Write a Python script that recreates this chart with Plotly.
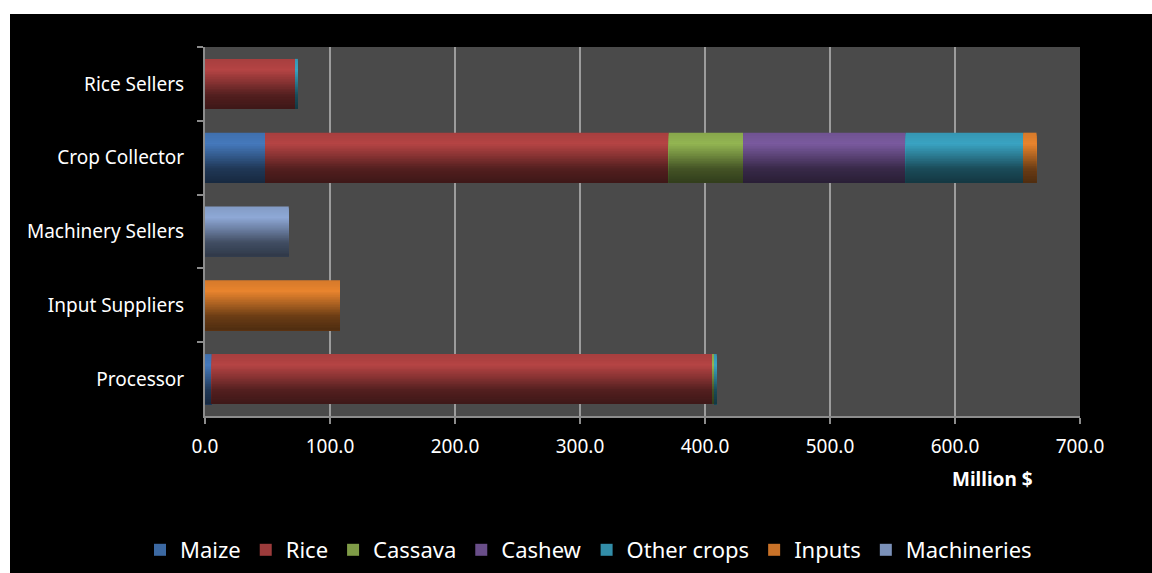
import plotly.graph_objects as go

# Value chain actors (top to bottom) and spending per product, in million $
actors = ["Rice Sellers", "Crop Collector", "Machinery Sellers", "Input Suppliers", "Processor"]
maize = [0.0, 48.0, 0.0, 0.0, 5.4]
rice = [72.0, 323.0, 0.0, 0.0, 400.5]
cassava = [0.0, 59.5, 0.0, 0.0, 1.3]
cashew = [0.0, 130.0, 0.0, 0.0, 0.0]
other_crops = [2.3, 94.0, 0.0, 0.0, 2.2]
inputs = [0.0, 10.7, 0.0, 108.0, 0.0]
machineries = [0.0, 0.0, 67.0, 0.0, 0.0]

series_names = ["Maize", "Rice", "Cassava", "Cashew", "Other crops", "Inputs", "Machineries"]
series_values = [maize, rice, cassava, cashew, other_crops, inputs, machineries]
series_colors = ["#4579BC", "#B54444", "#93B552", "#7A5A9E", "#3AA3C2", "#E8842E", "#8EA8D6"]

x_ticks = [0, 100, 200, 300, 400, 500, 600, 700]

FONT = "Noto Sans"
BAR_W = 0.678      # bar thickness in category units
N_STRIPES = 30     # vertical shading steps per bar

# brightness profile from top edge (0) to bottom edge (1) of each bar
SHADE = [(0.0, 0.92), (0.22, 1.0), (0.45, 0.76), (0.72, 0.46), (1.0, 0.34)]


def hex_rgb(h):
    h = h.lstrip("#")
    return tuple(int(h[i:i + 2], 16) for i in (0, 2, 4))


def shade(color, t):
    r, g, b = hex_rgb(color)
    f = SHADE[-1][1]
    for (t0, f0), (t1, f1) in zip(SHADE[:-1], SHADE[1:]):
        if t0 <= t <= t1:
            f = f0 + (f1 - f0) * (t - t0) / (t1 - t0)
            break
    return "rgb(%d,%d,%d)" % tuple(min(255, round(c * f)) for c in (r, g, b))


fig = go.Figure()

# cumulative left edges for the stacked segments
bases = [[0.0] * len(actors)]
for vals in series_values[:-1]:
    bases.append([b + v for b, v in zip(bases[-1], vals)])

step = BAR_W / N_STRIPES
for name, vals, base, color in zip(series_names, series_values, bases, series_colors):
    xs, ys, bs, offs, wids, cols = [], [], [], [], [], []
    for actor, v, b0 in zip(actors, vals, base):
        if v <= 0:
            continue
        for k in range(N_STRIPES):
            xs.append(v)
            ys.append(actor)
            bs.append(b0)
            offs.append(-BAR_W / 2 + k * step)
            wids.append(BAR_W - k * step)
            cols.append(shade(color, (k + 0.5) / N_STRIPES))
    fig.add_trace(go.Bar(
        x=xs, y=ys, base=bs, offset=offs, width=wids, orientation="h",
        marker=dict(color=cols, line=dict(width=0)),
        showlegend=False, hoverinfo="skip",
    ))
    # legend entry
    fig.add_trace(go.Bar(
        x=[None], y=[None], orientation="h", name=name,
        marker=dict(color=shade(color, 0.35), line=dict(width=0)),
        showlegend=True,
    ))

# frame: white border with black chart area and grey plot area
ML, MR, MT, MB = 205, 72, 47, 157
W, H = 1152, 573
pw, ph = W - ML - MR, H - MT - MB
fig.add_shape(type="rect", xref="paper", yref="paper", layer="below",
              x0=(10 - ML) / pw, x1=(W + 20 - ML) / pw,
              y0=-(MB + 20) / ph, y1=(H - MB - 14) / ph,
              fillcolor="#000000", line=dict(width=0))
fig.add_shape(type="rect", xref="paper", yref="paper", layer="below",
              x0=0, x1=1, y0=0, y1=1, fillcolor="#4a4a4a", line=dict(width=0))

fig.add_annotation(text="<b>Million $</b>", xref="paper", yref="paper",
                   x=(992 - ML) / pw, y=(416 - 479) / ph, showarrow=False,
                   xanchor="center", yanchor="middle",
                   font=dict(family=FONT, size=19, color="#ffffff"))

fig.update_layout(
    width=W, height=H,
    margin=dict(l=ML, r=MR, t=MT, b=MB, autoexpand=False),
    paper_bgcolor="#ffffff", plot_bgcolor="rgba(0,0,0,0)",
    barmode="overlay",
    font=dict(family=FONT, size=19, color="#ffffff"),
    legend=dict(orientation="h", xref="paper", yref="paper",
                x=(140 - ML) / pw, xanchor="left",
                y=(416 - 550) / ph, yanchor="middle",
                font=dict(family=FONT, size=22, color="#ffffff"),
                bgcolor="rgba(0,0,0,0)", itemsizing="constant", itemwidth=30),
    xaxis=dict(range=[0, 700], tickvals=x_ticks, tickformat=".1f",
               showgrid=True, gridcolor="#9c9c9c", gridwidth=2,
               zeroline=False, showline=True, linecolor="#8c8c8c", linewidth=2,
               ticks="outside", ticklen=6, tickcolor="#8c8c8c", tickwidth=2,
               ticklabelstandoff=6,
               tickfont=dict(family=FONT, size=19, color="#ffffff")),
    yaxis=dict(type="category", categoryorder="array", categoryarray=actors,
               autorange="reversed", showgrid=False, zeroline=False,
               showline=True, linecolor="#8c8c8c", linewidth=2,
               ticks="outside", ticklen=6, tickcolor="#8c8c8c", tickwidth=2,
               tickson="boundaries", ticklabelstandoff=15,
               tickfont=dict(family=FONT, size=19, color="#ffffff")),
)

fig.write_html("out.html")
